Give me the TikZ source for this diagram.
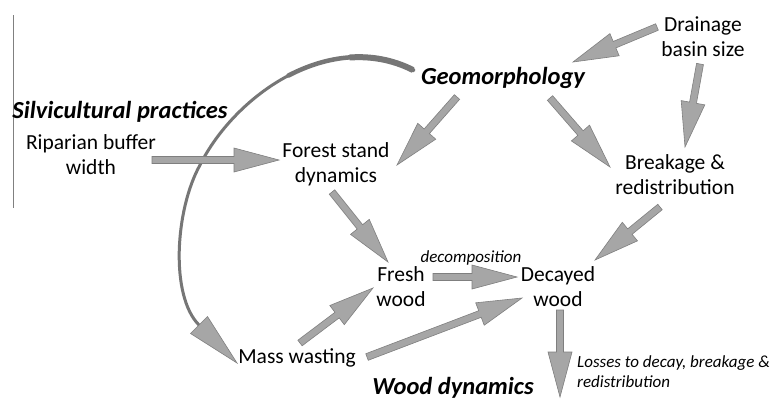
\documentclass[tikz,border=0pt]{standalone}
\usepackage{fontspec}
\setmainfont{Carlito}
\usetikzlibrary{calc}
\definecolor{arrfill}{HTML}{A6A6A6}
\definecolor{arredge}{HTML}{7F7F7F}
\definecolor{curvecol}{HTML}{767676}
\tikzset{
  lbl/.style={font=\fontsize{21.5}{25}\selectfont, align=center, inner sep=0pt},
  headlbl/.style={font=\fontsize{24.5}{28}\selectfont\bfseries\itshape, inner sep=0pt},
  smalllbl/.style={font=\fontsize{17}{20}\selectfont\itshape, inner sep=0pt, align=left},
  blockarr/.style={fill=arrfill, draw=arredge, line width=0.6pt, line join=miter},
  curveline/.style={draw=curvecol, line cap=round},
  frameline/.style={draw=gray, line width=1pt}
}
\newcommand\blockarrow[2]{%
  \coordinate (bah) at ($(#2)!45pt!(#1)$);
  \filldraw[blockarr] ($(#1)!3.5pt!90:(#2)$) -- ($(bah)!3.5pt!90:(#2)$) -- ($(bah)!12pt!90:(#2)$) -- (#2) -- ($(bah)!12pt!-90:(#2)$) -- ($(bah)!3.5pt!-90:(#2)$) -- ($(#1)!3.5pt!-90:(#2)$) -- cycle;
}
\begin{document}
\begin{tikzpicture}[x=1pt,y=-1pt]
\useasboundingbox[fill=white] (0,0) rectangle (771,400);

% frame line
\coordinate (fl1) at (13,15);
\coordinate (fl2) at (13,208);
\draw[frameline] (fl1) -- (fl2);

% nodes
\node[headlbl] (sil) at (120,112) {Silvicultural practices};
\node[lbl] (rip) at (91,155) {Riparian buffer\\width};
\node[lbl] (forest) at (336,164) {Forest stand\\dynamics};
\node[headlbl] (geo) at (503,78) {Geomorphology};
\node[lbl] (drain) at (703,37) {Drainage\\basin size};
\node[lbl] (break) at (675,175) {Breakage \&\\redistribution};
\node[lbl] (fresh) at (401,287) {Fresh\\wood};
\node[smalllbl] (decomp) at (471,258) {decomposition};
\node[lbl] (decay) at (558,287) {Decayed\\wood};
\node[lbl] (mass) at (297,358) {Mass wasting};
\node[smalllbl, anchor=west] (loss) at (577,372) {Losses to decay, breakage \&\\redistribution};
\node[headlbl, anchor=base] (wood) at (453,394) {Wood dynamics};

% arrow end points
\coordinate (a1t) at (152,160);  \coordinate (a1h) at (279,160);
\coordinate (a2t) at (657,27);   \coordinate (a2h) at (573,62);
\coordinate (a3t) at (700,64);   \coordinate (a3h) at (685,147);
\coordinate (a4t) at (457,97);   \coordinate (a4h) at (397,165);
\coordinate (a5t) at (550,98);   \coordinate (a5h) at (610,167);
\coordinate (a6t) at (660,207);  \coordinate (a6h) at (595,260);
\coordinate (a7t) at (332,192);  \coordinate (a7h) at (388,262);
\coordinate (a8t) at (433,277);  \coordinate (a8h) at (517,277);
\coordinate (a9t) at (300,343);  \coordinate (a9h) at (373,288);
\coordinate (a10t) at (367,357); \coordinate (a10h) at (522,298);
\coordinate (a11t) at (560,310); \coordinate (a11h) at (560,397);

% curved arrow Geomorphology -> Mass wasting
\coordinate (c0) at (413,70);
\coordinate (c1) at (200,165);
\coordinate (c2) at (199,325);
\coordinate (c3) at (237,363);
\draw[curveline, line width=3pt] (c0) .. controls (330,28) and (235,95) .. (c1)
   .. controls (175,210) and (170,296) .. (c2);
\draw[curveline, line width=4.5pt] (c0) .. controls (371.5,49) and (327,55.5) .. (288.5,75.5);
\draw[curveline, line width=6pt, line cap=butt] (c0) .. controls (392.25,59.5) and (370.75,56) .. (349.6,57.5);
\filldraw[blockarr] ($(c2)!12pt!90:(c3)$) -- (c3) -- ($(c2)!12pt!-90:(c3)$) -- cycle;

% block arrows
\blockarrow{a1t}{a1h}
\blockarrow{a2t}{a2h}
\blockarrow{a3t}{a3h}
\blockarrow{a4t}{a4h}
\blockarrow{a5t}{a5h}
\blockarrow{a6t}{a6h}
\blockarrow{a7t}{a7h}
\blockarrow{a8t}{a8h}
\blockarrow{a9t}{a9h}
\blockarrow{a10t}{a10h}
\blockarrow{a11t}{a11h}
\end{tikzpicture}
\end{document}
